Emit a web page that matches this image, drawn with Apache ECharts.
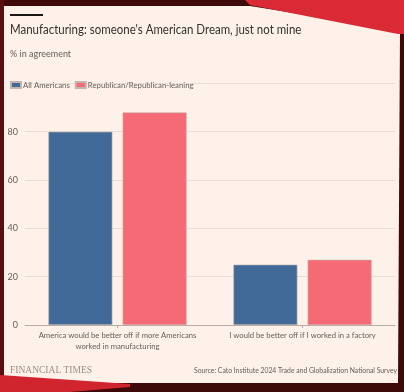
<!DOCTYPE html>
<html><head><meta charset="utf-8">
<script src="https://cdn.jsdelivr.net/npm/echarts@6/dist/echarts.min.js"></script>
<style>html,body{margin:0;padding:0;background:#3a0808;}#c{width:404px;height:392px;}</style>
</head><body><div id="c"></div>
<script>
const categories = ['America would be better off if more Americans\nworked in manufacturing', 'I would be better off if I worked in a factory'];
const allAmericans = [80, 25];
const republican = [88, 27];
const seriesNames = ['All Americans', 'Republican/Republican-leaning'];
const yTicks = [0, 20, 40, 60, 80];

const chart = echarts.init(document.getElementById('c'), null, {renderer: 'canvas'});
const font = 'Lato, "Noto Sans", sans-serif';
chart.setOption({
  backgroundColor: '#3d0909',
  animation: false,
  graphic: [
    {type: 'rect', z: -10, shape: {x: 0, y: 0, width: 404, height: 392}, style: {fill: '#3d0909'}},
    {type: 'rect', z: -10, shape: {x: 0, y: 0, width: 4, height: 392}, style: {fill: '#5a0f0f'}},
    {type: 'polygon', z: -9, shape: {points: [[4,6],[250,6],[400,30],[398,383],[4,383]]}, style: {fill: '#fdf1e9'}},
    {type: 'polygon', z: -8, shape: {points: [[245,0],[404,0],[404,34],[398,34],[250,5]]}, style: {fill: '#d92a35'}},
    {type: 'polygon', z: -8, shape: {points: [[0,375],[130,384],[130,387],[70,392],[0,392]]}, style: {fill: '#d0242f'}},
    {type: 'rect', shape: {x: 10, y: 14, width: 33, height: 2}, style: {fill: '#1a1817'}},
    {type: 'text', x: 10, y: 23, scaleX: 0.85, style: {text: "Manufacturing: someone's American Dream, just not mine", font: '13.5px ' + font, fill: '#33302e'}},
    {type: 'text', x: 10, y: 50, style: {text: '% in agreement', font: '9px ' + font, fill: '#66605c'}},
    {type: 'text', x: 10, y: 365, style: {text: 'FINANCIAL TIMES', font: '9.5px "Liberation Serif", serif', fill: '#9a9088'}},
    {type: 'text', right: 7, top: 367, style: {text: 'Source: Cato Institute 2024 Trade and Globalization National Survey', font: '6.8px ' + font, fill: '#66605c'}}
  ],
  legend: {
    left: 5, top: 76, itemWidth: 10, itemHeight: 6, itemGap: 5, icon: 'rect',
    textStyle: {fontSize: 7.8, color: '#66605c', fontFamily: font, padding: [0,0,0,-3]},
    data: seriesNames
  },
  grid: {left: 25, right: 9, top: 83.4, bottom: 67, containLabel: false},
  xAxis: {
    type: 'category', data: categories,
    axisLine: {lineStyle: {color: '#b8aca3'}},
    axisTick: {show: true, alignWithLabel: true, length: 3, lineStyle: {color: '#b8aca3'}},
    axisLabel: {fontSize: 7.7, color: '#66605c', fontFamily: font, margin: 5, lineHeight: 11, interval: 0}
  },
  yAxis: {
    type: 'value', min: 0, max: 100, interval: 20,
    axisLabel: {fontSize: 9, color: '#66605c', fontFamily: font, margin: 7,
      formatter: v => yTicks.includes(v) ? String(v) : ''},
    splitLine: {lineStyle: {color: '#e9ddd3'}},
    axisLine: {show: false}, axisTick: {show: false}
  },
  series: [
    {name: seriesNames[0], type: 'bar', data: allAmericans, barWidth: 64, barGap: '16%',
     itemStyle: {color: '#416a98', borderColor: '#c4b6ad', borderWidth: 0.6}},
    {name: seriesNames[1], type: 'bar', data: republican, barWidth: 64,
     itemStyle: {color: '#f56a74', borderColor: '#c4b6ad', borderWidth: 0.6}}
  ]
});
</script></body></html>
